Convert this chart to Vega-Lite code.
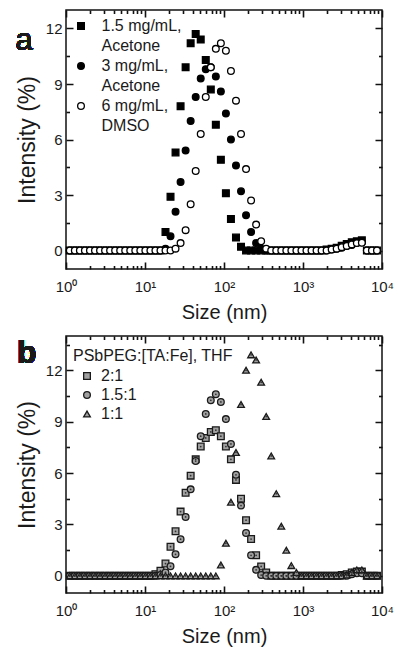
{
  "$schema": "https://vega.github.io/schema/vega-lite/v6.json",
  "padding": {"left": 14, "top": 8, "right": 12, "bottom": 8},
  "spacing": 11,
  "resolve": {"scale": {"x": "independent", "y": "independent", "shape": "independent", "fill": "independent", "stroke": "independent", "size": "independent"}},
  "config": {
    "font": "Liberation Sans",
    "view": {"stroke": "#111", "strokeWidth": 1.5},
    "axis": {"domain": false, "grid": false, "labelFont": "Liberation Sans", "labelFontSize": 15, "labelColor": "#1a1a1a", "tickColor": "#111", "tickWidth": 1.6, "titleFont": "Liberation Sans", "titleFontWeight": "normal", "titleColor": "#1a1a1a"},
    "legend": {"labelFont": "Liberation Sans", "titleFont": "Liberation Sans", "labelColor": "#1a1a1a", "titleColor": "#1a1a1a"},
    "style": {"guide-label": {"lineHeight": 20}}
  },
  "datasets": {
    "a": [
      {"series":"1.5 mg/mL, Acetone","size":1.117,"intensity":0},{"series":"1.5 mg/mL, Acetone","size":1.294,"intensity":0},{"series":"1.5 mg/mL, Acetone","size":1.499,"intensity":0},{"series":"1.5 mg/mL, Acetone","size":1.736,"intensity":0},{"series":"1.5 mg/mL, Acetone","size":2.01,"intensity":0},{"series":"1.5 mg/mL, Acetone","size":2.328,"intensity":0},{"series":"1.5 mg/mL, Acetone","size":2.696,"intensity":0},{"series":"1.5 mg/mL, Acetone","size":3.122,"intensity":0},{"series":"1.5 mg/mL, Acetone","size":3.615,"intensity":0},{"series":"1.5 mg/mL, Acetone","size":4.187,"intensity":0},{"series":"1.5 mg/mL, Acetone","size":4.849,"intensity":0},{"series":"1.5 mg/mL, Acetone","size":5.615,"intensity":0},{"series":"1.5 mg/mL, Acetone","size":6.503,"intensity":0},{"series":"1.5 mg/mL, Acetone","size":7.531,"intensity":0},{"series":"1.5 mg/mL, Acetone","size":8.721,"intensity":0},{"series":"1.5 mg/mL, Acetone","size":10.1,"intensity":0},{"series":"1.5 mg/mL, Acetone","size":11.7,"intensity":0},{"series":"1.5 mg/mL, Acetone","size":13.54,"intensity":0},{"series":"1.5 mg/mL, Acetone","size":15.69,"intensity":0},
      {"series":"1.5 mg/mL, Acetone","size":18.17,"intensity":1.0},{"series":"1.5 mg/mL, Acetone","size":21.04,"intensity":2.9},{"series":"1.5 mg/mL, Acetone","size":24.36,"intensity":5.3},{"series":"1.5 mg/mL, Acetone","size":28.21,"intensity":7.8},{"series":"1.5 mg/mL, Acetone","size":32.67,"intensity":9.9},{"series":"1.5 mg/mL, Acetone","size":37.84,"intensity":11.2},{"series":"1.5 mg/mL, Acetone","size":43.82,"intensity":11.7},{"series":"1.5 mg/mL, Acetone","size":50.75,"intensity":11.4},{"series":"1.5 mg/mL, Acetone","size":58.77,"intensity":10.3},{"series":"1.5 mg/mL, Acetone","size":68.06,"intensity":8.7},{"series":"1.5 mg/mL, Acetone","size":78.82,"intensity":6.8},{"series":"1.5 mg/mL, Acetone","size":91.28,"intensity":4.9},{"series":"1.5 mg/mL, Acetone","size":105.7,"intensity":3.1},{"series":"1.5 mg/mL, Acetone","size":122.4,"intensity":1.7},{"series":"1.5 mg/mL, Acetone","size":141.8,"intensity":0.7},{"series":"1.5 mg/mL, Acetone","size":164.2,"intensity":0.2},
      {"series":"1.5 mg/mL, Acetone","size":190.1,"intensity":0},{"series":"1.5 mg/mL, Acetone","size":220.2,"intensity":0},{"series":"1.5 mg/mL, Acetone","size":255,"intensity":0},{"series":"1.5 mg/mL, Acetone","size":295.3,"intensity":0},{"series":"1.5 mg/mL, Acetone","size":342,"intensity":0},{"series":"1.5 mg/mL, Acetone","size":396.1,"intensity":0},{"series":"1.5 mg/mL, Acetone","size":458.7,"intensity":0},{"series":"1.5 mg/mL, Acetone","size":531.2,"intensity":0},{"series":"1.5 mg/mL, Acetone","size":615.1,"intensity":0},{"series":"1.5 mg/mL, Acetone","size":712.4,"intensity":0},{"series":"1.5 mg/mL, Acetone","size":825,"intensity":0},{"series":"1.5 mg/mL, Acetone","size":955.4,"intensity":0},{"series":"1.5 mg/mL, Acetone","size":1106,"intensity":0},{"series":"1.5 mg/mL, Acetone","size":1281,"intensity":0},{"series":"1.5 mg/mL, Acetone","size":1484,"intensity":0},{"series":"1.5 mg/mL, Acetone","size":1718,"intensity":0},
      {"series":"1.5 mg/mL, Acetone","size":1990,"intensity":0.05},{"series":"1.5 mg/mL, Acetone","size":2305,"intensity":0.1},{"series":"1.5 mg/mL, Acetone","size":2669,"intensity":0.15},{"series":"1.5 mg/mL, Acetone","size":3091,"intensity":0.25},{"series":"1.5 mg/mL, Acetone","size":3580,"intensity":0.35},{"series":"1.5 mg/mL, Acetone","size":4145,"intensity":0.45},{"series":"1.5 mg/mL, Acetone","size":4801,"intensity":0.5},{"series":"1.5 mg/mL, Acetone","size":5560,"intensity":0.55},
      {"series":"1.5 mg/mL, Acetone","size":6439,"intensity":0},{"series":"1.5 mg/mL, Acetone","size":7456,"intensity":0},{"series":"1.5 mg/mL, Acetone","size":8635,"intensity":0},

      {"series":"3 mg/mL, Acetone","size":1.117,"intensity":0},{"series":"3 mg/mL, Acetone","size":1.294,"intensity":0},{"series":"3 mg/mL, Acetone","size":1.499,"intensity":0},{"series":"3 mg/mL, Acetone","size":1.736,"intensity":0},{"series":"3 mg/mL, Acetone","size":2.01,"intensity":0},{"series":"3 mg/mL, Acetone","size":2.328,"intensity":0},{"series":"3 mg/mL, Acetone","size":2.696,"intensity":0},{"series":"3 mg/mL, Acetone","size":3.122,"intensity":0},{"series":"3 mg/mL, Acetone","size":3.615,"intensity":0},{"series":"3 mg/mL, Acetone","size":4.187,"intensity":0},{"series":"3 mg/mL, Acetone","size":4.849,"intensity":0},{"series":"3 mg/mL, Acetone","size":5.615,"intensity":0},{"series":"3 mg/mL, Acetone","size":6.503,"intensity":0},{"series":"3 mg/mL, Acetone","size":7.531,"intensity":0},{"series":"3 mg/mL, Acetone","size":8.721,"intensity":0},{"series":"3 mg/mL, Acetone","size":10.1,"intensity":0},{"series":"3 mg/mL, Acetone","size":11.7,"intensity":0},{"series":"3 mg/mL, Acetone","size":13.54,"intensity":0},{"series":"3 mg/mL, Acetone","size":15.69,"intensity":0},
      {"series":"3 mg/mL, Acetone","size":18.17,"intensity":0.1},{"series":"3 mg/mL, Acetone","size":21.04,"intensity":0.77},{"series":"3 mg/mL, Acetone","size":24.36,"intensity":2.1},{"series":"3 mg/mL, Acetone","size":28.21,"intensity":3.7},{"series":"3 mg/mL, Acetone","size":32.67,"intensity":5.4},{"series":"3 mg/mL, Acetone","size":37.84,"intensity":7.0},{"series":"3 mg/mL, Acetone","size":43.82,"intensity":8.3},{"series":"3 mg/mL, Acetone","size":50.75,"intensity":9.3},{"series":"3 mg/mL, Acetone","size":58.77,"intensity":9.8},{"series":"3 mg/mL, Acetone","size":68.06,"intensity":9.9},{"series":"3 mg/mL, Acetone","size":78.82,"intensity":9.4},{"series":"3 mg/mL, Acetone","size":91.28,"intensity":8.6},{"series":"3 mg/mL, Acetone","size":105.7,"intensity":7.4},{"series":"3 mg/mL, Acetone","size":122.4,"intensity":6.0},{"series":"3 mg/mL, Acetone","size":141.8,"intensity":4.6},{"series":"3 mg/mL, Acetone","size":164.2,"intensity":3.2},{"series":"3 mg/mL, Acetone","size":190.1,"intensity":1.9},{"series":"3 mg/mL, Acetone","size":220.2,"intensity":1.0},{"series":"3 mg/mL, Acetone","size":255,"intensity":0.4},{"series":"3 mg/mL, Acetone","size":295.3,"intensity":0.1},
      {"series":"3 mg/mL, Acetone","size":342,"intensity":0},{"series":"3 mg/mL, Acetone","size":396.1,"intensity":0},{"series":"3 mg/mL, Acetone","size":458.7,"intensity":0},{"series":"3 mg/mL, Acetone","size":531.2,"intensity":0},{"series":"3 mg/mL, Acetone","size":615.1,"intensity":0},{"series":"3 mg/mL, Acetone","size":712.4,"intensity":0},{"series":"3 mg/mL, Acetone","size":825,"intensity":0},{"series":"3 mg/mL, Acetone","size":955.4,"intensity":0},{"series":"3 mg/mL, Acetone","size":1106,"intensity":0},{"series":"3 mg/mL, Acetone","size":1281,"intensity":0},{"series":"3 mg/mL, Acetone","size":1484,"intensity":0},{"series":"3 mg/mL, Acetone","size":1718,"intensity":0},{"series":"3 mg/mL, Acetone","size":1990,"intensity":0},
      {"series":"3 mg/mL, Acetone","size":2305,"intensity":0.05},{"series":"3 mg/mL, Acetone","size":2669,"intensity":0.1},{"series":"3 mg/mL, Acetone","size":3091,"intensity":0.15},{"series":"3 mg/mL, Acetone","size":3580,"intensity":0.25},{"series":"3 mg/mL, Acetone","size":4145,"intensity":0.3},{"series":"3 mg/mL, Acetone","size":4801,"intensity":0.4},{"series":"3 mg/mL, Acetone","size":5560,"intensity":0.45},
      {"series":"3 mg/mL, Acetone","size":6439,"intensity":0},{"series":"3 mg/mL, Acetone","size":7456,"intensity":0},{"series":"3 mg/mL, Acetone","size":8635,"intensity":0},

      {"series":"6 mg/mL, DMSO","size":1.117,"intensity":0},{"series":"6 mg/mL, DMSO","size":1.294,"intensity":0},{"series":"6 mg/mL, DMSO","size":1.499,"intensity":0},{"series":"6 mg/mL, DMSO","size":1.736,"intensity":0},{"series":"6 mg/mL, DMSO","size":2.01,"intensity":0},{"series":"6 mg/mL, DMSO","size":2.328,"intensity":0},{"series":"6 mg/mL, DMSO","size":2.696,"intensity":0},{"series":"6 mg/mL, DMSO","size":3.122,"intensity":0},{"series":"6 mg/mL, DMSO","size":3.615,"intensity":0},{"series":"6 mg/mL, DMSO","size":4.187,"intensity":0},{"series":"6 mg/mL, DMSO","size":4.849,"intensity":0},{"series":"6 mg/mL, DMSO","size":5.615,"intensity":0},{"series":"6 mg/mL, DMSO","size":6.503,"intensity":0},{"series":"6 mg/mL, DMSO","size":7.531,"intensity":0},{"series":"6 mg/mL, DMSO","size":8.721,"intensity":0},{"series":"6 mg/mL, DMSO","size":10.1,"intensity":0},{"series":"6 mg/mL, DMSO","size":11.7,"intensity":0},{"series":"6 mg/mL, DMSO","size":13.54,"intensity":0},{"series":"6 mg/mL, DMSO","size":15.69,"intensity":0},{"series":"6 mg/mL, DMSO","size":18.17,"intensity":0},{"series":"6 mg/mL, DMSO","size":21.04,"intensity":0},
      {"series":"6 mg/mL, DMSO","size":24.36,"intensity":0.1},{"series":"6 mg/mL, DMSO","size":28.21,"intensity":0.4},{"series":"6 mg/mL, DMSO","size":32.67,"intensity":1.1},{"series":"6 mg/mL, DMSO","size":37.84,"intensity":2.5},{"series":"6 mg/mL, DMSO","size":43.82,"intensity":4.3},{"series":"6 mg/mL, DMSO","size":50.75,"intensity":6.3},{"series":"6 mg/mL, DMSO","size":58.77,"intensity":8.3},{"series":"6 mg/mL, DMSO","size":68.06,"intensity":9.9},{"series":"6 mg/mL, DMSO","size":78.82,"intensity":10.9},{"series":"6 mg/mL, DMSO","size":91.28,"intensity":11.2},{"series":"6 mg/mL, DMSO","size":105.7,"intensity":10.8},{"series":"6 mg/mL, DMSO","size":122.4,"intensity":9.7},{"series":"6 mg/mL, DMSO","size":141.8,"intensity":8.1},{"series":"6 mg/mL, DMSO","size":164.2,"intensity":6.3},{"series":"6 mg/mL, DMSO","size":190.1,"intensity":4.4},{"series":"6 mg/mL, DMSO","size":220.2,"intensity":2.7},{"series":"6 mg/mL, DMSO","size":255,"intensity":1.4},{"series":"6 mg/mL, DMSO","size":295.3,"intensity":0.5},{"series":"6 mg/mL, DMSO","size":342,"intensity":0.1},
      {"series":"6 mg/mL, DMSO","size":396.1,"intensity":0},{"series":"6 mg/mL, DMSO","size":458.7,"intensity":0},{"series":"6 mg/mL, DMSO","size":531.2,"intensity":0},{"series":"6 mg/mL, DMSO","size":615.1,"intensity":0},{"series":"6 mg/mL, DMSO","size":712.4,"intensity":0},{"series":"6 mg/mL, DMSO","size":825,"intensity":0},{"series":"6 mg/mL, DMSO","size":955.4,"intensity":0},{"series":"6 mg/mL, DMSO","size":1106,"intensity":0},{"series":"6 mg/mL, DMSO","size":1281,"intensity":0},{"series":"6 mg/mL, DMSO","size":1484,"intensity":0},{"series":"6 mg/mL, DMSO","size":1718,"intensity":0},{"series":"6 mg/mL, DMSO","size":1990,"intensity":0},
      {"series":"6 mg/mL, DMSO","size":2305,"intensity":0.05},{"series":"6 mg/mL, DMSO","size":2669,"intensity":0.1},{"series":"6 mg/mL, DMSO","size":3091,"intensity":0.18},{"series":"6 mg/mL, DMSO","size":3580,"intensity":0.25},{"series":"6 mg/mL, DMSO","size":4145,"intensity":0.33},{"series":"6 mg/mL, DMSO","size":4801,"intensity":0.4},{"series":"6 mg/mL, DMSO","size":5560,"intensity":0.42},
      {"series":"6 mg/mL, DMSO","size":6439,"intensity":0},{"series":"6 mg/mL, DMSO","size":7456,"intensity":0},{"series":"6 mg/mL, DMSO","size":8635,"intensity":0}
    ],
    "b": [
      {"series":"2:1","size":1.117,"intensity":0},{"series":"2:1","size":1.294,"intensity":0},{"series":"2:1","size":1.499,"intensity":0},{"series":"2:1","size":1.736,"intensity":0},{"series":"2:1","size":2.01,"intensity":0},{"series":"2:1","size":2.328,"intensity":0},{"series":"2:1","size":2.696,"intensity":0},{"series":"2:1","size":3.122,"intensity":0},{"series":"2:1","size":3.615,"intensity":0},{"series":"2:1","size":4.187,"intensity":0},{"series":"2:1","size":4.849,"intensity":0},{"series":"2:1","size":5.615,"intensity":0},{"series":"2:1","size":6.503,"intensity":0},{"series":"2:1","size":7.531,"intensity":0},{"series":"2:1","size":8.721,"intensity":0},{"series":"2:1","size":10.1,"intensity":0},{"series":"2:1","size":11.7,"intensity":0},
      {"series":"2:1","size":13.54,"intensity":0.1},{"series":"2:1","size":15.69,"intensity":0.3},{"series":"2:1","size":18.17,"intensity":0.72},{"series":"2:1","size":21.04,"intensity":1.7},{"series":"2:1","size":24.36,"intensity":2.6},{"series":"2:1","size":28.21,"intensity":3.75},{"series":"2:1","size":32.67,"intensity":4.85},{"series":"2:1","size":37.84,"intensity":5.85},{"series":"2:1","size":43.82,"intensity":6.8},{"series":"2:1","size":50.75,"intensity":7.55},{"series":"2:1","size":58.77,"intensity":8.05},{"series":"2:1","size":68.06,"intensity":8.4},{"series":"2:1","size":78.82,"intensity":8.5},{"series":"2:1","size":91.28,"intensity":8.15},{"series":"2:1","size":105.7,"intensity":7.55},{"series":"2:1","size":122.4,"intensity":6.8},{"series":"2:1","size":141.8,"intensity":5.6},{"series":"2:1","size":164.2,"intensity":4.5},{"series":"2:1","size":190.1,"intensity":3.25},{"series":"2:1","size":220.2,"intensity":2.15},{"series":"2:1","size":255,"intensity":1.2},{"series":"2:1","size":295.3,"intensity":0.55},{"series":"2:1","size":342,"intensity":0.2},
      {"series":"2:1","size":396.1,"intensity":0},{"series":"2:1","size":458.7,"intensity":0},{"series":"2:1","size":531.2,"intensity":0},{"series":"2:1","size":615.1,"intensity":0},{"series":"2:1","size":712.4,"intensity":0},{"series":"2:1","size":825,"intensity":0},{"series":"2:1","size":955.4,"intensity":0},{"series":"2:1","size":1106,"intensity":0},{"series":"2:1","size":1281,"intensity":0},{"series":"2:1","size":1484,"intensity":0},{"series":"2:1","size":1718,"intensity":0},{"series":"2:1","size":1990,"intensity":0},{"series":"2:1","size":2305,"intensity":0},{"series":"2:1","size":2669,"intensity":0},
      {"series":"2:1","size":3091,"intensity":0.05},{"series":"2:1","size":3580,"intensity":0.1},{"series":"2:1","size":4145,"intensity":0.2},{"series":"2:1","size":4801,"intensity":0.25},{"series":"2:1","size":5560,"intensity":0.25},
      {"series":"2:1","size":6439,"intensity":0},{"series":"2:1","size":7456,"intensity":0},{"series":"2:1","size":8635,"intensity":0},

      {"series":"1.5:1","size":1.117,"intensity":0},{"series":"1.5:1","size":1.294,"intensity":0},{"series":"1.5:1","size":1.499,"intensity":0},{"series":"1.5:1","size":1.736,"intensity":0},{"series":"1.5:1","size":2.01,"intensity":0},{"series":"1.5:1","size":2.328,"intensity":0},{"series":"1.5:1","size":2.696,"intensity":0},{"series":"1.5:1","size":3.122,"intensity":0},{"series":"1.5:1","size":3.615,"intensity":0},{"series":"1.5:1","size":4.187,"intensity":0},{"series":"1.5:1","size":4.849,"intensity":0},{"series":"1.5:1","size":5.615,"intensity":0},{"series":"1.5:1","size":6.503,"intensity":0},{"series":"1.5:1","size":7.531,"intensity":0},{"series":"1.5:1","size":8.721,"intensity":0},{"series":"1.5:1","size":10.1,"intensity":0},{"series":"1.5:1","size":11.7,"intensity":0},{"series":"1.5:1","size":13.54,"intensity":0},
      {"series":"1.5:1","size":15.69,"intensity":0.05},{"series":"1.5:1","size":18.17,"intensity":0.2},{"series":"1.5:1","size":21.04,"intensity":0.56},{"series":"1.5:1","size":24.36,"intensity":1.26},{"series":"1.5:1","size":28.21,"intensity":2.14},{"series":"1.5:1","size":32.67,"intensity":3.44},{"series":"1.5:1","size":37.84,"intensity":5.05},{"series":"1.5:1","size":43.82,"intensity":6.7},{"series":"1.5:1","size":50.75,"intensity":8.15},{"series":"1.5:1","size":58.77,"intensity":9.45},{"series":"1.5:1","size":68.06,"intensity":10.25},{"series":"1.5:1","size":78.82,"intensity":10.6},{"series":"1.5:1","size":91.28,"intensity":10.15},{"series":"1.5:1","size":105.7,"intensity":9.15},{"series":"1.5:1","size":122.4,"intensity":7.7},{"series":"1.5:1","size":141.8,"intensity":5.9},{"series":"1.5:1","size":164.2,"intensity":4.1},{"series":"1.5:1","size":190.1,"intensity":2.5},{"series":"1.5:1","size":220.2,"intensity":1.2},{"series":"1.5:1","size":255,"intensity":0.35},{"series":"1.5:1","size":295.3,"intensity":0.05},
      {"series":"1.5:1","size":342,"intensity":0},{"series":"1.5:1","size":396.1,"intensity":0},{"series":"1.5:1","size":458.7,"intensity":0},{"series":"1.5:1","size":531.2,"intensity":0},{"series":"1.5:1","size":615.1,"intensity":0},{"series":"1.5:1","size":712.4,"intensity":0},{"series":"1.5:1","size":825,"intensity":0},{"series":"1.5:1","size":955.4,"intensity":0},{"series":"1.5:1","size":1106,"intensity":0},{"series":"1.5:1","size":1281,"intensity":0},{"series":"1.5:1","size":1484,"intensity":0},{"series":"1.5:1","size":1718,"intensity":0},{"series":"1.5:1","size":1990,"intensity":0},{"series":"1.5:1","size":2305,"intensity":0},{"series":"1.5:1","size":2669,"intensity":0},{"series":"1.5:1","size":3091,"intensity":0},{"series":"1.5:1","size":3580,"intensity":0},
      {"series":"1.5:1","size":4145,"intensity":0.1},{"series":"1.5:1","size":4801,"intensity":0.15},{"series":"1.5:1","size":5560,"intensity":0.15},
      {"series":"1.5:1","size":6439,"intensity":0},{"series":"1.5:1","size":7456,"intensity":0},{"series":"1.5:1","size":8635,"intensity":0},

      {"series":"1:1","size":1.117,"intensity":0},{"series":"1:1","size":1.294,"intensity":0},{"series":"1:1","size":1.499,"intensity":0},{"series":"1:1","size":1.736,"intensity":0},{"series":"1:1","size":2.01,"intensity":0},{"series":"1:1","size":2.328,"intensity":0},{"series":"1:1","size":2.696,"intensity":0},{"series":"1:1","size":3.122,"intensity":0},{"series":"1:1","size":3.615,"intensity":0},{"series":"1:1","size":4.187,"intensity":0},{"series":"1:1","size":4.849,"intensity":0},{"series":"1:1","size":5.615,"intensity":0},{"series":"1:1","size":6.503,"intensity":0},{"series":"1:1","size":7.531,"intensity":0},{"series":"1:1","size":8.721,"intensity":0},{"series":"1:1","size":10.1,"intensity":0},{"series":"1:1","size":11.7,"intensity":0},{"series":"1:1","size":13.54,"intensity":0},{"series":"1:1","size":15.69,"intensity":0},{"series":"1:1","size":18.17,"intensity":0},{"series":"1:1","size":21.04,"intensity":0},{"series":"1:1","size":24.36,"intensity":0},{"series":"1:1","size":28.21,"intensity":0},{"series":"1:1","size":32.67,"intensity":0},{"series":"1:1","size":37.84,"intensity":0},{"series":"1:1","size":43.82,"intensity":0},{"series":"1:1","size":50.75,"intensity":0},{"series":"1:1","size":58.77,"intensity":0},{"series":"1:1","size":68.06,"intensity":0},{"series":"1:1","size":78.82,"intensity":0},
      {"series":"1:1","size":91.28,"intensity":0.64},{"series":"1:1","size":105.7,"intensity":1.9},{"series":"1:1","size":122.4,"intensity":4.3},{"series":"1:1","size":141.8,"intensity":7.2},{"series":"1:1","size":164.2,"intensity":10.0},{"series":"1:1","size":190.1,"intensity":12.0},{"series":"1:1","size":220.2,"intensity":12.9},{"series":"1:1","size":255,"intensity":12.6},{"series":"1:1","size":295.3,"intensity":11.3},{"series":"1:1","size":342,"intensity":9.3},{"series":"1:1","size":396.1,"intensity":7.0},{"series":"1:1","size":458.7,"intensity":4.8},{"series":"1:1","size":531.2,"intensity":2.9},{"series":"1:1","size":615.1,"intensity":1.5},{"series":"1:1","size":712.4,"intensity":0.6},{"series":"1:1","size":825,"intensity":0.2},
      {"series":"1:1","size":955.4,"intensity":0},{"series":"1:1","size":1106,"intensity":0},{"series":"1:1","size":1281,"intensity":0},{"series":"1:1","size":1484,"intensity":0},{"series":"1:1","size":1718,"intensity":0},{"series":"1:1","size":1990,"intensity":0},{"series":"1:1","size":2305,"intensity":0},{"series":"1:1","size":2669,"intensity":0},{"series":"1:1","size":3091,"intensity":0},
      {"series":"1:1","size":3580,"intensity":0.05},{"series":"1:1","size":4145,"intensity":0.2},{"series":"1:1","size":4801,"intensity":0.35},{"series":"1:1","size":5560,"intensity":0.35},
      {"series":"1:1","size":6439,"intensity":0},{"series":"1:1","size":7456,"intensity":0},{"series":"1:1","size":8635,"intensity":0}
    ]
  },
  "vconcat": [
    {
      "width": 316,
      "height": 259,
      "data": {"name": "a"},
      "resolve": {"axis": {"x": "independent", "y": "independent"}},
      "layer": [
        {
          "transform": [{"filter": "datum.series != '6 mg/mL, DMSO'"}],
          "mark": {"type": "point", "filled": true, "strokeWidth": 1.3, "opacity": 1, "size": 45},
          "encoding": {
            "x": {"field": "size", "type": "quantitative", "scale": {"type": "log", "domain": [1, 10000]},
              "axis": {"orient": "bottom", "values": [1,2,3,4,5,6,7,8,9,10,20,30,40,50,60,70,80,90,100,200,300,400,500,600,700,800,900,1000,2000,3000,4000,5000,6000,7000,8000,9000,10000],
                "labelExpr": "datum.value == 1 ? '10⁰' : datum.value == 10 ? '10¹' : datum.value == 100 ? '10²' : datum.value == 1000 ? '10³' : datum.value == 10000 ? '10⁴' : ''",
                "labelFlush": false, "labelOverlap": false, "labelPadding": 17, "tickSize": -7,
                "tickDash": {"condition": {"test": "indexof([1,10,100,1000,10000], datum.value) >= 0", "value": [1, 0]}, "value": [3.5, 30]},
                "title": "Size (nm)", "titleFontSize": 20, "titlePadding": 8}},
            "y": {"field": "intensity", "type": "quantitative", "scale": {"domain": [-1, 13], "nice": false, "zero": false},
              "axis": {"orient": "left", "values": [0,1.5,3,4.5,6,7.5,9,10.5,12],
                "labelExpr": "datum.value == 0 ? '0' : datum.value == 3 ? '3' : datum.value == 6 ? '6' : datum.value == 9 ? '9' : datum.value == 12 ? '12' : ''", "labelOverlap": false, "labelPadding": 11, "tickSize": -7,
                "tickDash": {"condition": {"test": "datum.value % 3 == 0", "value": [1, 0]}, "value": [3.5, 30]},
                "title": "Intensity (%)", "titleFontSize": 23, "titlePadding": 6}},
            "shape": {"field": "series", "type": "nominal", "scale": {"domain": ["1.5 mg/mL, Acetone", "3 mg/mL, Acetone", "6 mg/mL, DMSO"], "range": ["square", "circle", "circle"]},
              "legend": {"title": null, "orient": "none", "legendX": 7, "legendY": 8, "padding": 0, "labelFontSize": 16, "labelOffset": 12.5, "symbolSize": 45, "rowPadding": 4, "labelBaseline": "middle", "labelLimit": 300, "symbolStrokeWidth": 1.3,
                "labelExpr": "indexof(datum.label, ',') > 0 ? [slice(datum.label, 0, indexof(datum.label, ',') + 1), slice(datum.label, indexof(datum.label, ',') + 2)] : datum.label"}},
            "fill": {"field": "series", "type": "nominal", "scale": {"domain": ["1.5 mg/mL, Acetone", "3 mg/mL, Acetone", "6 mg/mL, DMSO"], "range": ["#000000", "#000000", "#ffffff"]},
              "legend": {"title": null, "orient": "none", "legendX": 7, "legendY": 8, "padding": 0, "labelFontSize": 16, "labelOffset": 12.5, "symbolSize": 45, "rowPadding": 4, "labelBaseline": "middle", "labelLimit": 300, "symbolStrokeWidth": 1.3,
                "labelExpr": "indexof(datum.label, ',') > 0 ? [slice(datum.label, 0, indexof(datum.label, ',') + 1), slice(datum.label, indexof(datum.label, ',') + 2)] : datum.label"}},
            "stroke": {"field": "series", "type": "nominal", "scale": {"domain": ["1.5 mg/mL, Acetone", "3 mg/mL, Acetone", "6 mg/mL, DMSO"], "range": ["#000000", "#000000", "#000000"]},
              "legend": {"title": null, "orient": "none", "legendX": 7, "legendY": 8, "padding": 0, "labelFontSize": 16, "labelOffset": 12.5, "symbolSize": 45, "rowPadding": 4, "labelBaseline": "middle", "labelLimit": 300, "symbolStrokeWidth": 1.3,
                "labelExpr": "indexof(datum.label, ',') > 0 ? [slice(datum.label, 0, indexof(datum.label, ',') + 1), slice(datum.label, indexof(datum.label, ',') + 2)] : datum.label"}}
          }
        },
        {
          "transform": [{"filter": "datum.series == '6 mg/mL, DMSO'"}],
          "mark": {"type": "point", "filled": true, "strokeWidth": 1.3, "opacity": 1, "size": 45},
          "encoding": {
            "x": {"field": "size", "type": "quantitative", "scale": {"type": "log", "domain": [1, 10000]},
              "axis": {"orient": "top", "values": [1,2,3,4,5,6,7,8,9,10,20,30,40,50,60,70,80,90,100,200,300,400,500,600,700,800,900,1000,2000,3000,4000,5000,6000,7000,8000,9000,10000],
                "labels": false, "title": null, "tickSize": -7,
                "tickDash": {"condition": {"test": "indexof([1,10,100,1000,10000], datum.value) >= 0", "value": [1, 0]}, "value": [3.5, 30]}}},
            "y": {"field": "intensity", "type": "quantitative", "scale": {"domain": [-1, 13], "nice": false, "zero": false},
              "axis": {"orient": "right", "values": [0,1.5,3,4.5,6,7.5,9,10.5,12], "labels": false, "title": null, "tickSize": -7,
                "tickDash": {"condition": {"test": "datum.value % 3 == 0", "value": [1, 0]}, "value": [3.5, 30]}}},
            "shape": {"field": "series", "type": "nominal", "scale": {"domain": ["1.5 mg/mL, Acetone", "3 mg/mL, Acetone", "6 mg/mL, DMSO"], "range": ["square", "circle", "circle"]}},
            "fill": {"field": "series", "type": "nominal", "scale": {"domain": ["1.5 mg/mL, Acetone", "3 mg/mL, Acetone", "6 mg/mL, DMSO"], "range": ["#000000", "#000000", "#ffffff"]}},
            "stroke": {"field": "series", "type": "nominal", "scale": {"domain": ["1.5 mg/mL, Acetone", "3 mg/mL, Acetone", "6 mg/mL, DMSO"], "range": ["#000000", "#000000", "#000000"]}}
          }
        },
        {
          "mark": {"type": "text", "text": "a", "font": "Liberation Sans", "fontSize": 31, "fontWeight": "normal", "align": "left", "baseline": "alphabetic", "color": "#1a1a1a", "clip": false},
          "encoding": {
            "x": {"datum": 0.23, "type": "quantitative", "scale": {"type": "log", "domain": [1, 10000]}, "axis": null},
            "y": {"datum": 10.84, "type": "quantitative", "scale": {"domain": [-1, 13], "nice": false, "zero": false}, "axis": null}
          }
        }
      ]
    },
    {
      "width": 316,
      "height": 257,
      "data": {"name": "b"},
      "resolve": {"axis": {"x": "independent", "y": "independent"}},
      "layer": [
        {
          "mark": {"type": "point", "filled": true, "strokeWidth": 1.3, "opacity": 1},
          "encoding": {
            "x": {"field": "size", "type": "quantitative", "scale": {"type": "log", "domain": [1, 10000]},
              "axis": {"orient": "bottom", "values": [1,2,3,4,5,6,7,8,9,10,20,30,40,50,60,70,80,90,100,200,300,400,500,600,700,800,900,1000,2000,3000,4000,5000,6000,7000,8000,9000,10000],
                "labelExpr": "datum.value == 1 ? '10⁰' : datum.value == 10 ? '10¹' : datum.value == 100 ? '10²' : datum.value == 1000 ? '10³' : datum.value == 10000 ? '10⁴' : ''",
                "labelFlush": false, "labelOverlap": false, "labelPadding": 17, "tickSize": -7,
                "tickDash": {"condition": {"test": "indexof([1,10,100,1000,10000], datum.value) >= 0", "value": [1, 0]}, "value": [3.5, 30]},
                "title": "Size (nm)", "titleFontSize": 20, "titlePadding": 8}},
            "y": {"field": "intensity", "type": "quantitative", "scale": {"domain": [-1, 14], "nice": false, "zero": false},
              "axis": {"orient": "left", "values": [0,1.5,3,4.5,6,7.5,9,10.5,12,13.5],
                "labelExpr": "datum.value == 0 ? '0' : datum.value == 3 ? '3' : datum.value == 6 ? '6' : datum.value == 9 ? '9' : datum.value == 12 ? '12' : ''", "labelOverlap": false, "labelPadding": 11, "tickSize": -7,
                "tickDash": {"condition": {"test": "datum.value % 3 == 0", "value": [1, 0]}, "value": [3.5, 30]},
                "title": "Intensity (%)", "titleFontSize": 23, "titlePadding": 6}},
            "shape": {"field": "series", "type": "nominal", "scale": {"domain": ["2:1", "1.5:1", "1:1"], "range": ["square", "circle", "triangle-up"]},
              "legend": {"title": "PSbPEG:[TA:Fe], THF", "orient": "none", "legendX": 7, "legendY": 12, "padding": 0, "titleFontSize": 16, "titleFontWeight": "normal", "titlePadding": 4, "labelFontSize": 16, "labelOffset": 6, "symbolOffset": 6, "rowPadding": 3, "symbolStrokeWidth": 1.3}},
            "size": {"field": "series", "type": "nominal", "scale": {"domain": ["2:1", "1.5:1", "1:1"], "range": [45, 45, 70]},
              "legend": {"title": "PSbPEG:[TA:Fe], THF", "orient": "none", "legendX": 7, "legendY": 12, "padding": 0, "titleFontSize": 16, "titleFontWeight": "normal", "titlePadding": 4, "labelFontSize": 16, "labelOffset": 6, "symbolOffset": 6, "rowPadding": 3, "symbolStrokeWidth": 1.3}},
            "fill": {"field": "series", "type": "nominal", "scale": {"domain": ["2:1", "1.5:1", "1:1"], "range": ["#a0a0a0", "#a0a0a0", "#a0a0a0"]},
              "legend": {"title": "PSbPEG:[TA:Fe], THF", "orient": "none", "legendX": 7, "legendY": 12, "padding": 0, "titleFontSize": 16, "titleFontWeight": "normal", "titlePadding": 4, "labelFontSize": 16, "labelOffset": 6, "symbolOffset": 6, "rowPadding": 3, "symbolStrokeWidth": 1.3}},
            "stroke": {"field": "series", "type": "nominal", "scale": {"domain": ["2:1", "1.5:1", "1:1"], "range": ["#1a1a1a", "#1a1a1a", "#1a1a1a"]},
              "legend": {"title": "PSbPEG:[TA:Fe], THF", "orient": "none", "legendX": 7, "legendY": 12, "padding": 0, "titleFontSize": 16, "titleFontWeight": "normal", "titlePadding": 4, "labelFontSize": 16, "labelOffset": 6, "symbolOffset": 6, "rowPadding": 3, "symbolStrokeWidth": 1.3}}
          }
        },
        {
          "mark": {"type": "point", "filled": true, "opacity": 1, "fill": "#333333", "size": 3, "shape": "circle"},
          "encoding": {
            "x": {"field": "size", "type": "quantitative", "scale": {"type": "log", "domain": [1, 10000]},
              "axis": {"orient": "top", "values": [1,2,3,4,5,6,7,8,9,10,20,30,40,50,60,70,80,90,100,200,300,400,500,600,700,800,900,1000,2000,3000,4000,5000,6000,7000,8000,9000,10000],
                "labels": false, "title": null, "tickSize": -7,
                "tickDash": {"condition": {"test": "indexof([1,10,100,1000,10000], datum.value) >= 0", "value": [1, 0]}, "value": [3.5, 30]}}},
            "y": {"field": "intensity", "type": "quantitative", "scale": {"domain": [-1, 14], "nice": false, "zero": false},
              "axis": {"orient": "right", "values": [0,1.5,3,4.5,6,7.5,9,10.5,12,13.5], "labels": false, "title": null, "tickSize": -7,
                "tickDash": {"condition": {"test": "datum.value % 3 == 0", "value": [1, 0]}, "value": [3.5, 30]}}}
          }
        },
        {
          "mark": {"type": "text", "text": "b", "font": "Liberation Sans", "fontSize": 32, "fontWeight": "bold", "align": "left", "baseline": "alphabetic", "color": "#1a1a1a", "clip": false},
          "encoding": {
            "x": {"datum": 0.24, "type": "quantitative", "scale": {"type": "log", "domain": [1, 10000]}, "axis": null},
            "y": {"datum": 12.4, "type": "quantitative", "scale": {"domain": [-1, 14], "nice": false, "zero": false}, "axis": null}
          }
        }
      ]
    }
  ]
}
